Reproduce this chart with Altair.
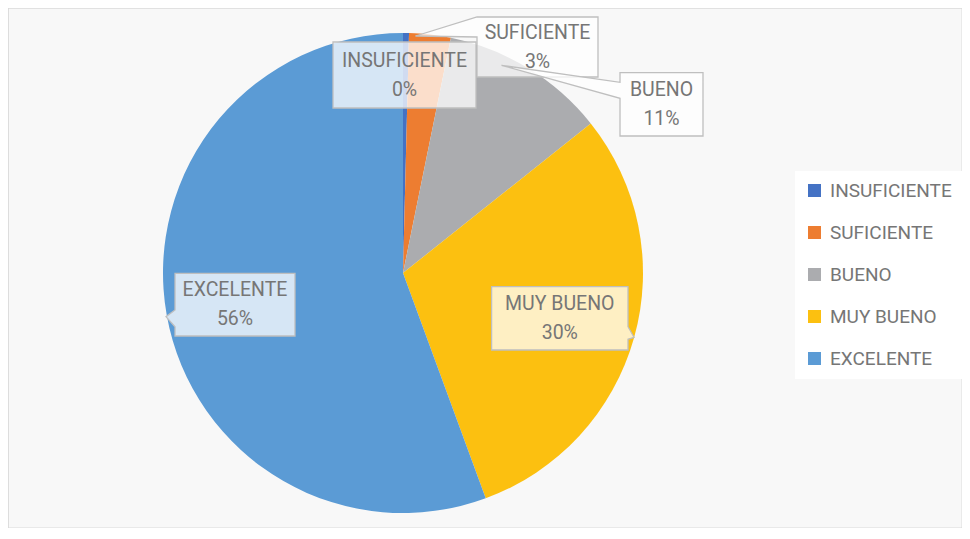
import altair as alt
import pandas as pd

# ---- data ----
categorias = ["INSUFICIENTE", "SUFICIENTE", "BUENO", "MUY BUENO", "EXCELENTE"]
porcentajes = [0.4, 2.8, 11.1, 30.1, 55.6]
colores = ["#4472C4", "#ED7D31", "#ABACAF", "#FCC010", "#5B9BD5"]

# ---- layout of the callout boxes (view pixels, not data) ----
callout_cx = [396.5, 529.5, 653.5, 551.8, 227.0]
callout_cy = [67.0, 39.0, 96.3, 310.3, 296.7]
callout_path = [
    "M-71.5,-33H71.5V33H-71.5Z",
    "M-60.5,-30H60.5V30H-60.5V-10L-122,-11L-60.5,-30Z",
    "M-41.5,-31.7H41.5V31.7H-41.5V-6L-160,-39L-41.5,-22Z",
    "M-68.2,-31.7H68.2V8.4L74.2,19L68.2,21V31.7H-68.2Z",
    "M-60,-31.3H60V31.3H-60V22L-69,12L-60,5.3Z",
]

FONT = "Roboto"
TXT = "#767676"
FS = 19.5

df = pd.DataFrame({
    "categoria": categorias,
    "valor": porcentajes,
    "orden": list(range(len(categorias))),
})
lab = pd.DataFrame({
    "categoria": categorias,
    "pct": [f"{round(p)}%" for p in porcentajes],
    "cx": callout_cx,
    "cy": callout_cy,
    "path": callout_path,
})

pie = alt.Chart(df).mark_arc(radius=240, stroke=None).encode(
    theta=alt.Theta("valor:Q", stack=True),
    order=alt.Order("orden:Q"),
    color=alt.Color(
        "categoria:N",
        sort=categorias,
        scale=alt.Scale(domain=categorias, range=colores),
        legend=alt.Legend(
            title=None,
            orient="none",
            legendX=787,
            legendY=163,
            direction="vertical",
            fillColor="white",
            padding=10,
            symbolType="square",
            symbolSize=169,
            symbolStrokeWidth=0,
            labelFont=FONT,
            labelFontSize=19,
            labelColor=TXT,
            labelOffset=6,
            rowPadding=22,
            labelLimit=300,
        ),
    ),
    x=alt.value(395),
    y=alt.value(265),
)

box = alt.Chart(lab).mark_point(
    filled=True, fill="white", fillOpacity=0.75, stroke="#BFBFBF",
    strokeWidth=1.3, opacity=1, size=4,
).encode(
    x=alt.X("cx:Q", scale=None, axis=None),
    y=alt.Y("cy:Q", scale=None, axis=None),
    shape=alt.Shape("path:N", scale=None, legend=None),
)

t1 = alt.Chart(lab).mark_text(
    font=FONT, fontSize=FS, color=TXT, dy=-14.5, baseline="middle", align="center"
).encode(
    x=alt.X("cx:Q", scale=None, axis=None),
    y=alt.Y("cy:Q", scale=None, axis=None),
    text="categoria:N",
)
t2 = alt.Chart(lab).mark_text(
    font=FONT, fontSize=FS, color=TXT, dy=14.5, baseline="middle", align="center"
).encode(
    x=alt.X("cx:Q", scale=None, axis=None),
    y=alt.Y("cy:Q", scale=None, axis=None),
    text="pct:N",
)

chart = alt.layer(pie, box, t1, t2).properties(
    width=954, height=520, padding=0, background="white"
).configure_view(
    fill="#f8f8f8", stroke="#D9D9D9", strokeWidth=1.3
)

chart.save("out.html", embed_options={"renderer": "svg", "actions": False})
